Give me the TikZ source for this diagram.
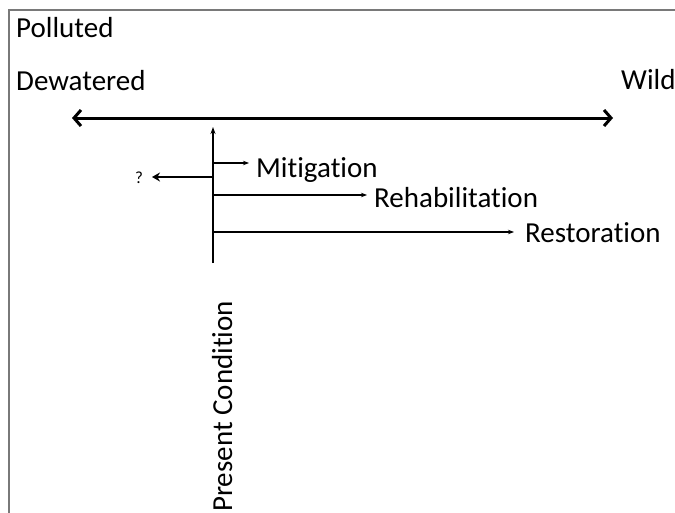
\documentclass[tikz,border=0pt]{standalone}
\usepackage{fontspec}
\setmainfont[Ligatures={NoCommon}]{Carlito}
\usetikzlibrary{arrows.meta}
\begin{document}
\begin{tikzpicture}[x=1pt,y=-1pt,
  lbl/.style={inner sep=0pt,anchor=base west,font=\fontsize{29}{34}\selectfont},
  thinarrow/.style={line width=1.1pt,-{Stealth[length=6pt,width=4.5pt]}},
  axisarrow/.style={line width=3pt,{Straight Barb[length=7pt,width=16pt]}-{Straight Barb[length=7pt,width=16pt]}}]
\useasboundingbox (0,0) rectangle (675,512);
\fill[white] (0,0) rectangle (675,512);
\draw[gray!95!black,line width=2pt] (9,530) -- (9,10) -- (700,10);
% labels
\node[lbl] (polluted) at (16,37) {Polluted};
\node[lbl] (dewatered) at (16,90) {Dewatered};
\node[lbl] (wild) at (621,89) {Wild};
% axis
\coordinate (axL) at (72,118);
\coordinate (axR) at (613,118);
\draw[axisarrow] (axL) -- (axR);
% present condition line
\coordinate (pcB) at (213,263);
\coordinate (pcT) at (213,127);
\draw[line width=1.6pt,-{Stealth[length=7pt,width=5pt]}] (pcB) -- (pcT);
\coordinate (mS) at (213,163);
\coordinate (mE) at (249,163);
\coordinate (qS) at (213,177);
\coordinate (qE) at (152,177);
\coordinate (rhS) at (213,195);
\coordinate (rhE) at (367,195);
\coordinate (rsS) at (213,232);
\coordinate (rsE) at (514,232);
\draw[thinarrow] (mS) -- (mE);
\draw[line width=2pt,-{Stealth[length=8pt,width=9pt]}] (qS) -- (qE);
\draw[thinarrow] (rhS) -- (rhE);
\draw[thinarrow] (rsS) -- (rsE);
\node[inner sep=0pt,font=\fontsize{17}{19}\selectfont] (q) at (139,178) {?};
\node[lbl] (mit) at (256,177) {Mitigation};
\node[lbl] (rehab) at (374,207) {Rehabilitation};
\node[lbl] (resto) at (525,242) {Restoration};
\node[lbl,rotate=90] (present) at (232,512) {Present Condition};
\end{tikzpicture}
\end{document}
